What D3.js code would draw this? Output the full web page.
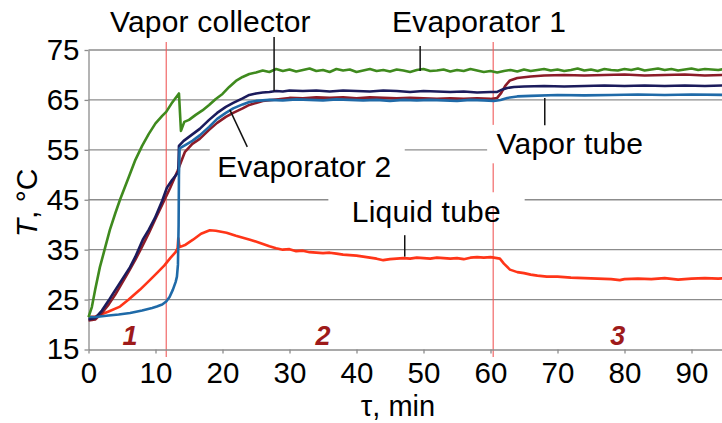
<!DOCTYPE html>
<html>
<head>
<meta charset="utf-8">
<script src="https://cdn.jsdelivr.net/npm/d3@7"></script>
<style>
  body { margin: 0; background: #fff; }
  svg { display: block; font-family: "Liberation Sans", Arial, sans-serif; }
</style>
</head>
<body>
<div id="chart"></div>
<script>
// tick values
const xTicks = [0, 10, 20, 30, 40, 50, 60, 70, 80, 90];
const yTicks = [15, 25, 35, 45, 55, 65, 75];

// stage boundaries (min) and stage names
const stageBounds = [11.6, 60.4];
const stageNames = ["1", "2", "3"];
const stageAt = [6.2, 35, 79];

// series: [time min, temperature °C]
const evaporator1 = [[0,21.5],[0.5,23.5],[1,27],[1.7,31.5],[2.5,35.5],[3.2,39],[4,42.3],[4.7,45],[6,49.5],[7,53],[8,55.8],[9,58.2],[10,60.3],[11,61.8],[11.6,62.6],[12.5,64.5],[13.5,66.3],[13.8,58.8],[14.3,60.6],[15,61],[16,62],[17,62.9],[18,64],[19,65.2],[20,66.2],[21,67.6],[22,68.8],[23,69.6],[24,70.2],[25,70.5],[26,70.9],[27,70.6],[28,71.2],[29,70.8],[30,71.1],[31,70.7],[32,71],[33,71.3],[34,70.8],[35,71],[36,70.6],[37,71.2],[38,70.9],[39,71.1],[40,70.6],[41,70.9],[42,71.2],[43,70.8],[44,71],[45,70.7],[46,71.1],[47,70.9],[48,70.6],[49,71],[50,71.2],[51,70.8],[52,70.9],[53,71.1],[54,70.7],[55,71],[56,70.8],[57,71.2],[58,70.9],[59,70.6],[60,70.8],[61,70.5],[62,70.8],[63,71],[64,70.7],[65,71.1],[66,70.8],[67,71],[68,71.2],[69,70.9],[70,71.1],[71,70.8],[72,71],[73,71.3],[74,70.9],[75,71.1],[76,70.8],[77,71.2],[78,71],[79,70.9],[80,71.2],[81,71],[82,71.3],[83,70.9],[84,71.1],[85,71.3],[86,71],[87,71.2],[88,70.9],[89,71.1],[90,71.3],[91,71],[92,71.2],[93,71.1],[94,71],[95,71.2]];

const vaporCollector = [[0,21],[1,21.3],[2,22.8],[3,24.8],[3.7,26.3],[5,29],[6.2,31.5],[7,33.6],[8.1,37],[9,39],[9.9,41.3],[11,44.8],[11.7,47.4],[12.5,49],[13.4,50.5],[13.5,55.8],[14.2,56.8],[15,57.6],[16.6,59.2],[18,61],[19.2,62.4],[20.5,63.6],[21.6,64.4],[23,65.3],[24,66],[25,66.3],[26,66.5],[27,66.6],[28,66.8],[29,66.7],[30,66.9],[32,66.8],[34,66.9],[36,66.7],[38,66.9],[40,66.8],[42,66.7],[44,66.9],[46,66.8],[48,66.6],[50,66.8],[52,66.7],[54,66.6],[56,66.7],[58,66.5],[60,66.6],[61,66.6],[61.8,67.1],[62.5,67.4],[63.5,67.6],[65,67.7],[68,67.8],[71,67.7],[74,67.8],[77,67.9],[80,67.8],[83,67.9],[86,67.8],[89,67.9],[92,67.8],[95,67.9]];

const evaporator2 = [[0,20.8],[1,21],[2,22.3],[3,24],[4,26],[5,28.3],[6,30.6],[7,33],[8,35.6],[9,38.3],[10,41.2],[11,44],[12.2,47.4],[13.3,50.8],[14.4,54.6],[15.5,56.2],[16.6,57.2],[18,59],[19.2,60.4],[20.5,61.6],[21.6,62.4],[23,63.3],[24,64],[25,64.4],[26,64.8],[28,65.1],[30,65.4],[32,65.3],[34,65.5],[36,65.4],[38,65.5],[40,65.3],[42,65.5],[44,65.4],[46,65.3],[48,65.4],[50,65.3],[52,65.2],[54,65.3],[56,65.2],[58,65.3],[60,65.2],[61,65.4],[61.6,66.4],[62.2,67.8],[62.9,68.9],[64,69.4],[66,69.7],[68,69.9],[71,70],[74,69.9],[77,70],[80,70.1],[83,69.9],[86,70],[89,70.1],[92,69.9],[95,70]];

const vaporTube = [[0,21.5],[1,21.5],[1.7,21.6],[3,21.8],[4.5,22],[6.2,22.3],[8,22.8],[9.5,23.3],[10.2,23.6],[11,24],[11.6,24.6],[12.1,25.5],[12.6,27],[13,28.5],[13.2,29.6],[13.35,32],[13.45,40],[13.5,50],[13.6,55.3],[14.5,56],[15.5,56.8],[16.6,57.9],[18,59.6],[19.2,61.2],[20.5,62.4],[21.6,63.3],[23,64.1],[24,64.6],[25,64.8],[27,65],[29,64.9],[31,65.1],[33,65],[35,64.9],[37,65.1],[39,65],[41,64.9],[43,65],[45,64.8],[47,65],[49,64.9],[51,65],[53,64.9],[55,64.8],[57,65],[59,64.9],[60.5,64.8],[61.5,65],[62.5,65.4],[64,65.7],[66,65.8],[70,66],[74,65.9],[78,66],[82,66.1],[86,66],[90,66.1],[95,66]];

const liquidTube = [[0,21.5],[1,21.6],[1.7,21.9],[3,22.6],[4.7,23.6],[6,25],[7.7,27],[9,28.7],[10.2,30.3],[11.3,31.8],[12.2,33.3],[13,34.5],[13.3,35.3],[13.4,37.3],[13.6,35.5],[14.5,36],[15.6,37],[16.8,38.2],[18.1,38.9],[19,38.8],[20.6,38.4],[22,37.8],[24.1,37],[25.5,36.4],[27,35.7],[28,35.3],[29,35],[30,35.1],[31,34.7],[32,34.8],[33,34.5],[34,34.4],[35,34.3],[36,34.4],[37,34.2],[38,34],[39,33.9],[40,33.8],[41,33.6],[42,33.4],[43,33.2],[44,32.9],[45,33.1],[46,33.2],[47,33.3],[48,33.2],[49,33.4],[50,33.3],[51,33.2],[52,33.4],[53,33.3],[54,33.2],[55,33.3],[56,33.1],[57,33.4],[58,33.5],[59,33.4],[60,33.5],[60.5,33.4],[61.4,33.2],[62,32.2],[62.9,31],[64,30.5],[65,30.3],[66,30],[67,29.8],[68.4,29.6],[70,29.6],[72,29.4],[74,29.3],[76,29.2],[78,29.1],[79.3,28.9],[80,29.1],[82,29.2],[84,29.1],[86,29.3],[88,29],[90,29.2],[92,29.3],[94,29.2],[95,29.3]];

const series = [
  { name: "Liquid tube", values: liquidTube, color: "#ff3518" },
  { name: "Evaporator 2", values: evaporator2, color: "#8c1c28" },
  { name: "Vapor collector", values: vaporCollector, color: "#1b1b5c" },
  { name: "Vapor tube", values: vaporTube, color: "#1f6aa8" },
  { name: "Evaporator 1", values: evaporator1, color: "#3f8a1e" }
];

// label text, position (min, °C), leader line from/to (min, °C), white box
const notes = [
  { text: "Vapor collector", at: [3.2, 78.7], lead: [[27.7, 77.6], [27.7, 66.8]], box: null },
  { text: "Evaporator 1", at: [45.3, 78.7], lead: [[49.5, 75.8], [49.5, 70.8]], box: null },
  { text: "Evaporator 2", at: [19.2, 49.6], lead: [[21.1, 63], [23.7, 55.6]], box: [18.1, 57, 47.2, 48.5] },
  { text: "Vapor tube", at: [60.9, 54.1], lead: [[68.1, 65.4], [68.1, 59.9]], box: [59.5, 60, 100, 52.3] },
  { text: "Liquid tube", at: [39.3, 40.5], lead: [[47.2, 37.9], [47.2, 33.6]], box: [35.8, 46.5, 65.1, 43.5] }
];

const width = 722, height = 423;
const x = d3.scaleLinear().domain([0, 100]).range([88.5, 758.5]);
const y = d3.scaleLinear().domain([15, 75]).range([349.5, 50]);

const svg = d3.select("#chart").append("svg")
  .attr("width", width)
  .attr("height", height);

// grid
svg.append("g")
  .selectAll("line")
  .data(yTicks.filter(d => d > 15))
  .enter()
  .append("line")
  .attr("x1", x(0)).attr("x2", width)
  .attr("y1", d => y(d)).attr("y2", d => y(d))
  .attr("stroke", "#8c8c8c")
  .attr("stroke-width", 1.3);

// stage borders
svg.append("g")
  .selectAll("line")
  .data(stageBounds)
  .enter()
  .append("line")
  .attr("x1", d => x(d)).attr("x2", d => x(d))
  .attr("y1", y(76.6)).attr("y2", y(13.5))
  .attr("stroke", "#f05a5a")
  .attr("stroke-width", 1.1);

// white boxes behind labels
svg.append("g")
  .selectAll("rect")
  .data(notes.filter(d => d.box))
  .enter()
  .append("rect")
  .attr("x", d => x(d.box[0]))
  .attr("y", d => y(d.box[1]))
  .attr("width", d => Math.min(x(d.box[2]), width) - x(d.box[0]))
  .attr("height", d => y(d.box[3]) - y(d.box[1]))
  .attr("fill", "#fff");

// axes
const xAxis = svg.append("g")
  .attr("transform", `translate(0, ${y(15)})`)
  .call(d3.axisBottom(x).tickValues(xTicks).tickSize(4).tickPadding(5).tickSizeOuter(0));

const yAxis = svg.append("g")
  .attr("transform", `translate(${x(0)}, 0)`)
  .call(d3.axisLeft(y).tickValues(yTicks).tickSize(4).tickPadding(5).tickSizeOuter(0));

[xAxis, yAxis].forEach(a => {
  a.select(".domain").attr("stroke", "#8c8c8c").attr("stroke-width", 1.3);
  a.selectAll(".tick line").attr("stroke", "#8c8c8c").attr("stroke-width", 1.3);
  a.selectAll(".tick text")
    .attr("fill", "#000")
    .style("font-size", "29.5px")
    .style("font-family", "'Liberation Sans', Arial, sans-serif");
});
xAxis.selectAll(".tick text").attr("dy", "0.82em");

// lines
const line = d3.line()
  .x(d => x(d[0]))
  .y(d => y(d[1]));

svg.append("g")
  .selectAll("path")
  .data(series)
  .enter()
  .append("path")
  .attr("d", d => line(d.values))
  .attr("fill", "none")
  .attr("stroke", d => d.color)
  .attr("stroke-width", 2.6)
  .attr("stroke-linejoin", "round");

// leaders and labels
svg.append("g")
  .selectAll("line")
  .data(notes)
  .enter()
  .append("line")
  .attr("x1", d => x(d.lead[0][0])).attr("y1", d => y(d.lead[0][1]))
  .attr("x2", d => x(d.lead[1][0])).attr("y2", d => y(d.lead[1][1]))
  .attr("stroke", "#111")
  .attr("stroke-width", 1.5);

svg.append("g")
  .selectAll("text")
  .data(notes)
  .enter()
  .append("text")
  .attr("x", d => x(d.at[0]))
  .attr("y", d => y(d.at[1]))
  .text(d => d.text)
  .style("font-size", "30px")
  .style("letter-spacing", "0.2px")
  .attr("fill", "#000");

// stage numbers
svg.append("g")
  .selectAll("text")
  .data(stageNames)
  .enter()
  .append("text")
  .attr("x", (d, i) => x(stageAt[i]))
  .attr("y", y(16))
  .attr("text-anchor", "middle")
  .text(d => d)
  .style("font-size", "27px")
  .style("font-weight", "bold")
  .style("font-style", "italic")
  .attr("fill", "#9e1a1a");

// axis titles
svg.append("text")
  .attr("x", 398)
  .attr("y", 416)
  .attr("text-anchor", "middle")
  .style("font-size", "29px")
  .text("τ, min");

const yTitle = svg.append("text")
  .attr("transform", `translate(37, 203) rotate(-90)`)
  .attr("text-anchor", "middle")
  .style("font-size", "30px");
yTitle.append("tspan").style("font-style", "italic").text("T");
yTitle.append("tspan").text(", °C");
</script>
</body>
</html>
